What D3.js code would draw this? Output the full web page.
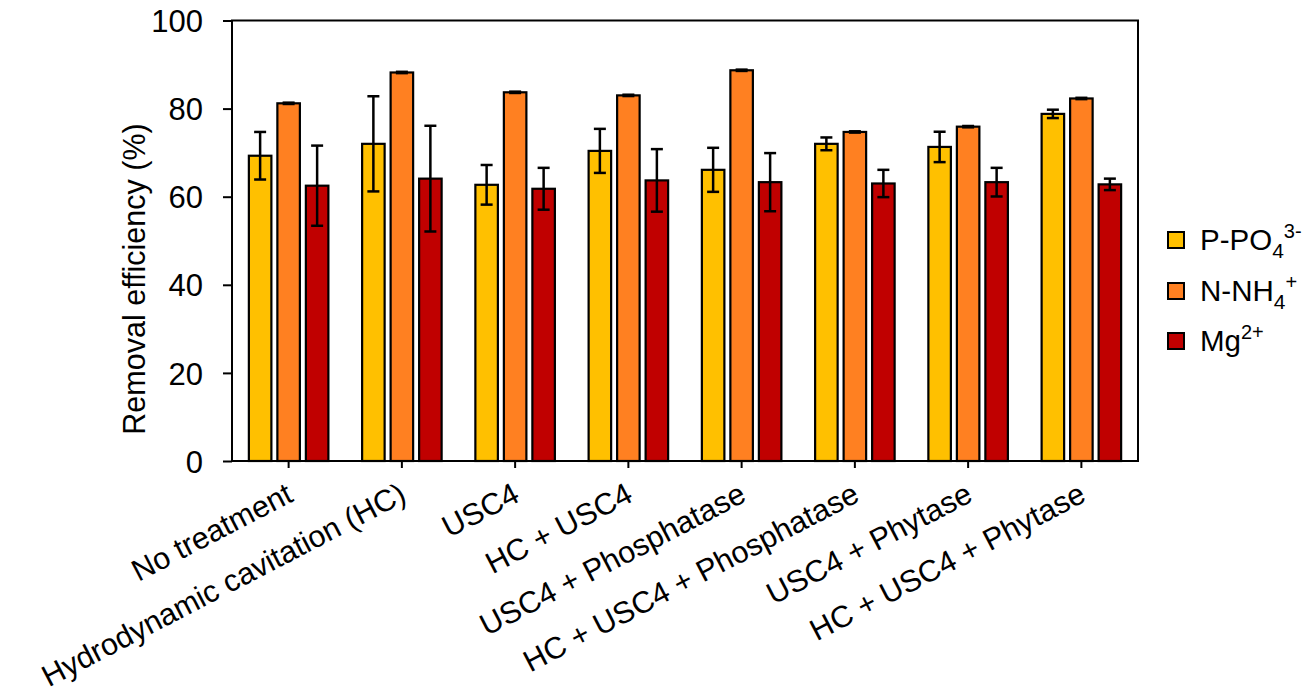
<!DOCTYPE html>
<html><head><meta charset="utf-8">
<script src="https://cdn.jsdelivr.net/npm/d3@7"></script>
<style>body{margin:0;background:#fff}svg{display:block}text{font-family:"Liberation Sans",Arial,sans-serif;fill:#000}</style>
</head><body><svg id="c" width="1309" height="698"></svg>
<script>
const categories = ["No treatment","Hydrodynamic cavitation (HC)","USC4","HC + USC4","USC4 + Phosphatase","HC + USC4 + Phosphatase","USC4 + Phytase","HC + USC4 + Phytase"];
const seriesNames = ["P-PO4","N-NH4","Mg"];
const pValues = [69.3, 72.0, 62.7, 70.4, 66.1, 72.0, 71.3, 78.8];
const pErrors = [5.4, 10.8, 4.5, 5.0, 5.0, 1.45, 3.45, 0.95];
const nValues = [81.2, 88.2, 83.7, 83.0, 88.7, 74.7, 75.9, 82.3];
const nErrors = [0.15, 0.15, 0.15, 0.15, 0.15, 0.15, 0.15, 0.15];
const mgValues = [62.5, 64.1, 61.8, 63.7, 63.3, 63.0, 63.3, 62.8];
const mgErrors = [9.1, 12.0, 4.75, 7.1, 6.6, 3.1, 3.25, 1.3];
const yTicks = [0, 20, 40, 60, 80, 100];
const colors = ["#FFC000", "#FF8021", "#C00000"];

const values = [pValues, nValues, mgValues];
const errors = [pErrors, nErrors, mgErrors];

const svg = d3.select("#c");
const L = 232, R = 1138, T = 20.5, B = 461;
const x0 = d3.scaleBand().domain(categories).range([L, R]);
const x1 = d3.scaleBand().domain(seriesNames).range([0, 85.5]).paddingInner(0.21).paddingOuter(0.105);
const y = d3.scaleLinear().domain([0, 100]).range([B, T]);

const data = [];
categories.forEach((c, i) => seriesNames.forEach((s, j) => data.push({c, s, j, v: values[j][i], e: errors[j][i]})));
const bx = d => x0(d.c) + x0.bandwidth()/2 - 42.75 + x1(d.s);

svg.append("g").selectAll("rect").data(data).join("rect")
  .attr("x", bx).attr("width", x1.bandwidth())
  .attr("y", d => y(d.v)).attr("height", d => B - y(d.v))
  .attr("fill", d => colors[d.j]).attr("stroke", "#000").attr("stroke-width", 2.2);

const eg = svg.append("g").attr("stroke", "#000").attr("stroke-width", 2.5);
data.forEach(d => {
  const cx = bx(d) + x1.bandwidth()/2;
  eg.append("line").attr("x1", cx).attr("x2", cx).attr("y1", y(d.v + d.e)).attr("y2", y(d.v - d.e));
  [d.v + d.e, d.v - d.e].forEach(v => eg.append("line").attr("x1", cx - 6).attr("x2", cx + 6).attr("y1", y(v)).attr("y2", y(v)));
});

// frame
svg.append("rect").attr("x", L).attr("y", T).attr("width", R - L).attr("height", B - T)
  .attr("fill", "none").attr("stroke", "#000").attr("stroke-width", 2);

// y axis
const ya = svg.append("g").attr("transform", `translate(${L},0)`)
  .call(d3.axisLeft(y).tickValues(yTicks).tickSize(9).tickPadding(20).tickFormat(d3.format("d")));
ya.select(".domain").remove();
ya.selectAll("line").attr("stroke", "#000").attr("stroke-width", 2);
ya.selectAll("text").attr("font-size", 31).attr("font-family", "Liberation Sans, Arial, sans-serif").attr("dy", "0.36em");

// x axis
const xa = svg.append("g").attr("transform", `translate(0,${B})`)
  .call(d3.axisBottom(x0).tickSize(7).tickFormat(""));
xa.select(".domain").remove();
xa.selectAll("line").attr("stroke", "#000").attr("stroke-width", 2);

svg.append("g").selectAll("text").data(categories).join("text")
  .attr("transform", d => `translate(${x0(d) + x0.bandwidth()/2 - 4},${481}) rotate(-27.5)`)
  .attr("text-anchor", "end").attr("dy", "0.72em").attr("font-size", 30.5).text(d => d);

svg.append("text").attr("transform", `translate(145,279) rotate(-90)`)
  .attr("text-anchor", "middle").attr("font-size", 30.5).text("Removal efficiency (%)");

// legend
const legY = [240, 291, 341];
const lg = svg.append("g");
seriesNames.forEach((s, j) => {
  lg.append("rect").attr("x", 1168).attr("y", legY[j] - 8).attr("width", 16).attr("height", 16)
    .attr("fill", colors[j]).attr("stroke", "#000").attr("stroke-width", 2);
  const t = lg.append("text").attr("x", 1200).attr("y", legY[j] + 10).attr("font-size", 29.5);
  if (j === 0) {
    t.append("tspan").text("P-PO");
    t.append("tspan").attr("dy", 8).attr("font-size", 21).text("4");
    t.append("tspan").attr("dy", -20).attr("font-size", 20).text("3-");
  } else if (j === 1) {
    t.append("tspan").text("N-NH");
    t.append("tspan").attr("dy", 8).attr("font-size", 21).text("4");
    t.append("tspan").attr("dy", -20).attr("font-size", 20).text("+");
  } else {
    t.append("tspan").text("Mg");
    t.append("tspan").attr("dy", -12).attr("font-size", 20).text("2+");
  }
});
</script></body></html>
